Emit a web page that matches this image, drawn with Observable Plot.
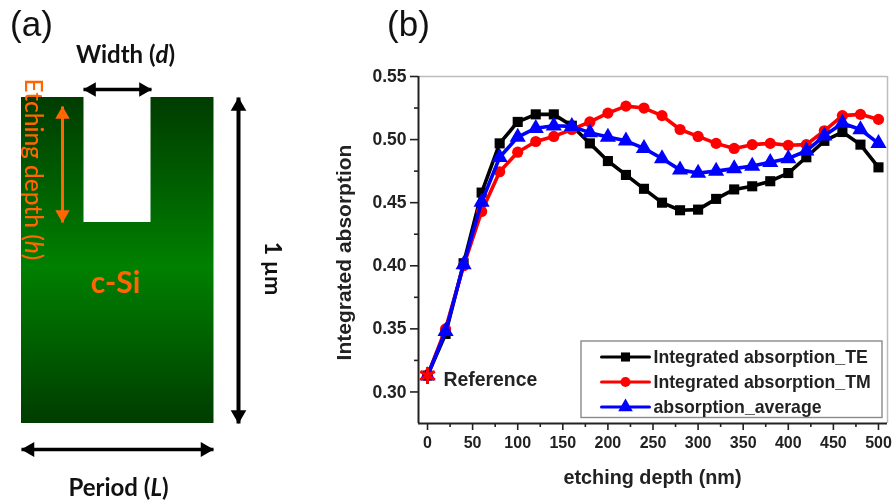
<!DOCTYPE html>
<html>
<head>
<meta charset="utf-8">
<script src="https://cdn.jsdelivr.net/npm/d3@7"></script>
<script src="https://cdn.jsdelivr.net/npm/@observablehq/plot@0.6"></script>
<style>
html,body{margin:0;padding:0;background:#fff}
#wrap{position:relative;width:893px;height:504px;overflow:hidden}
#wrap svg{position:absolute;left:0;top:0;background:transparent;filter:blur(0.35px)}
</style>
</head>
<body>
<div id="wrap"></div>
<script>
// ---- chart data (b) ----
const depth = [0,20,40,60,80,100,120,140,160,180,200,220,240,260,280,300,320,340,360,380,400,420,440,460,480,500];
const absorptionTE = [.313,.346,.402,.458,.497,.514,.520,.520,.511,.497,.483,.472,.461,.450,.444,.4445,.453,.4605,.463,.467,.4735,.486,.499,.506,.496,.478];
const absorptionTM = [.313,.350,.400,.443,.4745,.490,.4985,.5025,.508,.514,.521,.5265,.525,.519,.508,.5025,.497,.493,.496,.497,.4955,.496,.507,.519,.520,.516];
const absorptionAvg = [.313,.348,.401,.4505,.486,.502,.509,.511,.5105,.5055,.502,.499,.493,.485,.476,.4735,.475,.477,.479,.482,.485,.491,.503,.513,.508,.497];
const seriesNames = ["Integrated absorption_TE","Integrated absorption_TM","absorption_average"];
const seriesColors = ["#000000","#ff0000","#0000ff"];
const seriesSymbols = ["square","circle","triangle"];
const seriesRadius = [5.7,5.6,6];
const xMajor = [0,50,100,150,200,250,300,350,400,450,500];
const xMinor = [25,75,125,175,225,275,325,375,425,475];
const yMajor = [.30,.35,.40,.45,.50,.55];
const yMinor = [.325,.375,.425,.475,.525];

// ---- schematic (a), in page units ----
const slab = {x1:21,x2:213.5,y1:97,y2:423};
const notch = {x1:83.5,x2:150.5,y1:97,y2:222};
const orange = "#ff6600";
const arrows = [
  {x1:83,y1:89,x2:151,y2:89,c:"#000",w:3.5,s:5.4},
  {x1:62,y1:106,x2:62,y2:222,c:orange,w:3,s:5.4},
  {x1:238,y1:97,x2:238,y2:423,c:"#000",w:4,s:5.8},
  {x1:21,y1:449,x2:213,y2:449,c:"#000",w:3.5,s:5.6}
];
const labels = [
  {t:"(a)",x:31,y:24,size:35,c:"#111",f:"Liberation Sans",w:400,r:0},
  {t:"(b)",x:408,y:24,size:35,c:"#111",f:"Liberation Sans",w:400,r:0},
  {t:"Width (d)",x:125,y:55,size:24,c:"#111",f:"Lato",w:700,r:0},
  {t:"Period (L)",x:118,y:488,size:24,c:"#111",f:"Lato",w:700,r:0},
  {t:"c-Si",x:115,y:283,size:30,c:orange,f:"Lato",w:700,r:0},
  {t:"1 µm",x:272,y:268,size:23,c:"#111",f:"Lato",w:700,r:90},
  {t:"Etching depth (h)",x:32,y:169,size:24.5,c:orange,f:"Lato",w:500,r:90},
  {t:"Integrated absorption",x:344,y:252,size:21,c:"#222",f:"Liberation Sans",w:700,r:-90},
  {t:"etching depth (nm)",x:652,y:477,size:19.8,c:"#222",f:"Liberation Sans",w:700,r:0}
];
const legendBox = {x1:581,x2:882,y1:341,y2:417.5};
const legendY = [356.5,381.5,406.5];
const legendLine = [601,649];
const legendTextX = 653;
const refLabel = "Reference";

const tableOf = (ys, i) => depth.map((d,k)=>({d, v:ys[k], s:seriesNames[i]}));
const all = [absorptionTE,absorptionTM,absorptionAvg];

const lf = "Liberation Sans";
const tickBase = {fontWeight:700,fontFamily:lf,fill:"#222"};
const main = Plot.plot({
  width:893,height:504,marginLeft:418,marginRight:6,marginTop:76,marginBottom:81,
  style:{background:"transparent",overflow:"visible"},
  x:{domain:[-10,510],label:null,axis:null},
  y:{domain:[.275,.55],label:null,axis:null},
  marks:[
    Plot.ruleY([.55],{stroke:"#bdbdbd",strokeWidth:1.5}),
    Plot.ruleX([510],{stroke:"#bdbdbd",strokeWidth:1.5}),
    Plot.ruleY([.275],{stroke:"#222",strokeWidth:2}),
    Plot.ruleX([-10],{stroke:"#222",strokeWidth:2}),
    Plot.axisX({anchor:"bottom",ticks:xMajor,tickSize:7,tickPadding:6,tickFormat:d3.format("d"),label:null,strokeWidth:1.6,stroke:"#222",fontSize:16,...tickBase}),
    Plot.axisX({anchor:"bottom",ticks:xMinor,tickSize:4,text:null,label:null,strokeWidth:1.6,stroke:"#222"}),
    Plot.axisY({anchor:"left",ticks:yMajor,tickSize:8,tickPadding:4,tickFormat:d3.format(".2f"),label:null,strokeWidth:1.6,stroke:"#222",fontSize:17.5,...tickBase}),
    Plot.axisY({anchor:"left",ticks:yMinor,tickSize:4,text:null,label:null,strokeWidth:1.6,stroke:"#222"}),
    ...all.flatMap((ys,i)=>[
      Plot.line(tableOf(ys,i),{x:"d",y:"v",stroke:seriesColors[i],strokeWidth:3.6,curve:"linear"}),
      Plot.dot(tableOf(ys,i),{x:"d",y:"v",fill:seriesColors[i],stroke:"none",symbol:seriesSymbols[i],r:seriesRadius[i]})
    ]),
    Plot.dot([{d:depth[0],v:absorptionTM[0]}],{x:"d",y:"v",symbol:"asterisk",stroke:"#ff0000",strokeWidth:3,r:8})
  ]
});

const headSets = arrows.flatMap(a=>{
  const L=Math.hypot(a.x2-a.x1,a.y2-a.y1), ux=(a.x2-a.x1)/L, uy=(a.y2-a.y1)/L;
  const rot=Math.atan2(uy,ux)*180/Math.PI+90, off=a.s*1.5;
  return [
    {x:a.x2-ux*off,y:a.y2-uy*off,r:a.s,c:a.c,rot},
    {x:a.x1+ux*off,y:a.y1+uy*off,r:a.s,c:a.c,rot:rot+180}
  ];
});
const gradient = () => {
  const d=d3.create("svg:defs");
  const g=d.append("linearGradient").attr("id","siGrad").attr("x1",0).attr("x2",0).attr("y1",0).attr("y2",1);
  [[0,"#003c00"],[.52,"#008000"],[1,"#003c00"]].forEach(([o,c])=>g.append("stop").attr("offset",o).attr("stop-color",c));
  return d.node();
};
const sym = seriesSymbols.map((s,i)=>({x:(legendLine[0]+legendLine[1])/2,y:legendY[i],s,c:seriesColors[i],r:seriesRadius[i]*.9}));

const overlay = Plot.plot({
  width:893,height:504,margin:0,
  style:{background:"transparent"},
  x:{domain:[0,893],range:[0,893],axis:null},
  y:{domain:[0,504],range:[0,504],axis:null},
  marks:[
    gradient,
    Plot.rect([slab],{x1:"x1",x2:"x2",y1:"y1",y2:"y2",fill:"url(#siGrad)"}),
    Plot.rect([notch],{x1:"x1",x2:"x2",y1:"y1",y2:"y2",fill:"#fff"}),
    ...arrows.map(a=>Plot.link([a],{x1:"x1",y1:"y1",x2:"x2",y2:"y2",stroke:a.c,strokeWidth:a.w,inset:4})),
    ...headSets.map(h=>Plot.dot([h],{x:"x",y:"y",r:h.r,fill:h.c,stroke:"none",symbol:"triangle",rotate:h.rot})),
    ...labels.map(l=>Plot.text([l],{x:"x",y:"y",text:"t",fontSize:l.size,fill:l.c,fontFamily:l.f,fontWeight:l.w,rotate:l.r})),
    Plot.rect([legendBox],{x1:"x1",x2:"x2",y1:"y1",y2:"y2",fill:"#fff",stroke:"#8a8a8a",strokeWidth:1.4}),
    ...legendY.map((y,i)=>Plot.line(legendLine.map(x=>({x,y})),{x:"x",y:"y",stroke:seriesColors[i],strokeWidth:3})),
    ...sym.map(s=>Plot.dot([s],{x:"x",y:"y",r:s.r,fill:s.c,stroke:"none",symbol:s.s})),
    ...legendY.map((y,i)=>Plot.text([seriesNames[i]],{x:legendTextX,y,text:d=>d,textAnchor:"start",fontSize:17.7,fontWeight:700,fontFamily:lf,fill:"#222"})),
    Plot.text([refLabel],{x:443,y:379,text:d=>d,textAnchor:"start",fontSize:19.4,fontWeight:700,fontFamily:lf,fill:"#222"})
  ]
});
overlay.querySelectorAll("text").forEach(t=>{
  const m=t.textContent.match(/^(.*\()([dhL])(\))$/);
  if(!m) return;
  t.textContent="";
  [[m[1],"normal"],[m[2],"italic"],[m[3],"normal"]].forEach(([s,st])=>{
    const ts=document.createElementNS("http://www.w3.org/2000/svg","tspan");
    ts.textContent=s; ts.setAttribute("font-style",st); t.appendChild(ts);
  });
});
document.getElementById("wrap").append(main,overlay);
</script>
</body>
</html>
